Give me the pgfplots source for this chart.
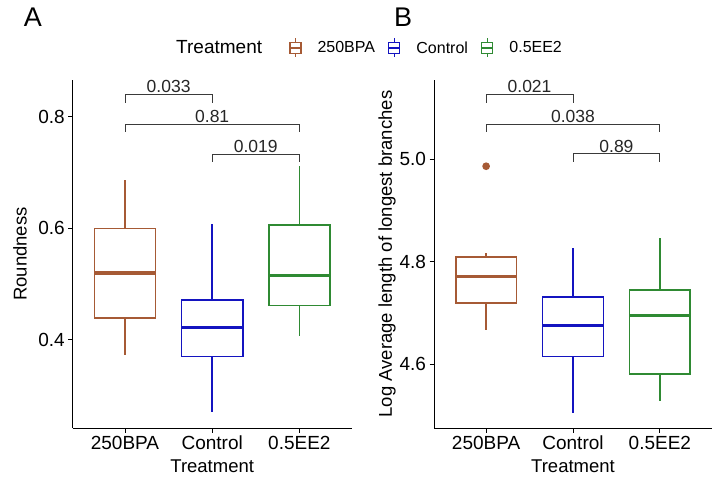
\documentclass[border=0pt]{standalone}
\usepackage{fontspec}
\setmainfont{Liberation Sans}
\usepackage{pgfplots}
\pgfplotsset{compat=1.18}
\usepgfplotslibrary{statistics}

\definecolor{cBPA}{HTML}{A65A35}
\definecolor{cCtl}{HTML}{1414C0}
\definecolor{cEE}{HTML}{2F8A33}
\definecolor{cBr}{HTML}{3A3A3A}

\tikzset{
  br/.style={cBr, line width=1pt},
  bl/.style={font=\fontsize{17.5}{20}\selectfont, text=black!85, above, inner sep=1.5pt},
}
\pgfplotsset{
  panel/.style={
    scale only axis,
    width=279pt, height=348pt,
    axis lines=left,
    axis line style={-, black, line width=1pt},
    xmin=0.4, xmax=3.6,
    xtick={1,2,3},
    xticklabels={250BPA,Control,0.5EE2},
    tick align=outside,
    major tick length=4.5pt,
    tick style={black, line width=1pt},
    tick label style={font=\fontsize{19}{22}\selectfont},
    xlabel={Treatment},
    every axis x label/.style={at={(axis description cs:0.5,-0.111)}, anchor=center,
      font=\fontsize{18.5}{22}\selectfont},
    /pgf/number format/assume math mode=true,
    boxplot/draw direction=y,
    clip=false,
  },
  bx/.style={
    solid, line width=1.6pt, draw=#1, fill=none,
    boxplot/whisker extend=0,
    boxplot/every box/.style={draw=#1, line width=1.6pt},
    boxplot/every whisker/.style={draw=#1, line width=1.6pt},
    boxplot/every median/.style={draw=#1, line width=3.2pt},
    mark=*, mark size=3pt, mark options={fill=#1, draw=#1},
  },
  key/.style={legend image code/.code={
    \draw[#1, line width=1.4pt] (0pt,-5.5pt) rectangle (11pt,5.5pt);
    \draw[#1, line width=1.4pt] (0pt,0pt) -- (11pt,0pt);
    \draw[#1, line width=1.4pt] (5.5pt,5.5pt) -- (5.5pt,9.5pt);
    \draw[#1, line width=1.4pt] (5.5pt,-5.5pt) -- (5.5pt,-9.5pt);
  }},
}

\begin{document}
\begin{tikzpicture}
\path (0pt,0pt) rectangle (717pt,480pt);

% Panel A
\begin{axis}[panel,
  at={(72.7pt,52pt)},
  ymin=0.242, ymax=0.866,
  ytick={0.4,0.6,0.8},
  yticklabel style={/pgf/number format/.cd, fixed, fixed zerofill, precision=1},
  ylabel={Roundness},
  every axis y label/.style={at={(axis description cs:-0.189,0.5)}, rotate=90, anchor=center,
    font=\fontsize{18.5}{22}\selectfont},
  legend columns=-1,
  legend style={at={(axis description cs:0.313,1.092)}, anchor=west, draw=none, fill=none,
    font=\fontsize{16}{19}\selectfont, inner xsep=0pt,
    /tikz/every odd column/.append style={column sep=14pt},
    /tikz/every even column/.append style={column sep=11pt}},
]
\addlegendimage{empty legend}
\addlegendentry{\fontsize{19}{22}\selectfont Treatment\rule{14pt}{0pt}}
\addlegendimage{key=cBPA}
\addlegendentry{250BPA}
\addlegendimage{key=cCtl}
\addlegendentry{Control}
\addlegendimage{key=cEE}
\addlegendentry{0.5EE2}

\addplot+[bx=cBPA, forget plot, boxplot prepared={draw position=1, box extend=0.7,
  lower whisker=0.373, lower quartile=0.439, median=0.520, upper quartile=0.600, upper whisker=0.687}]
  coordinates {};
\addplot+[bx=cCtl, forget plot, boxplot prepared={draw position=2, box extend=0.7,
  lower whisker=0.270, lower quartile=0.370, median=0.422, upper quartile=0.472, upper whisker=0.608}]
  coordinates {};
\addplot+[bx=cEE, forget plot, boxplot prepared={draw position=3, box extend=0.7,
  lower whisker=0.407, lower quartile=0.462, median=0.515, upper quartile=0.606, upper whisker=0.712}]
  coordinates {};

\draw[br] (axis cs:1,0.825) -- (axis cs:1,0.840) -- (axis cs:2,0.840) -- (axis cs:2,0.825);
\node[bl] at (axis cs:1.5,0.840) {0.033};
\draw[br] (axis cs:1,0.773) -- (axis cs:1,0.787) -- (axis cs:3,0.787) -- (axis cs:3,0.773);
\node[bl] at (axis cs:2,0.787) {0.81};
\draw[br] (axis cs:2,0.719) -- (axis cs:2,0.733) -- (axis cs:3,0.733) -- (axis cs:3,0.719);
\node[bl] at (axis cs:2.5,0.733) {0.019};
\end{axis}
\node[font=\fontsize{27}{30}\selectfont, anchor=center] at (33pt,463pt) {A};

% Panel B
\begin{axis}[panel,
  at={(434pt,52pt)}, width=278pt,
  ymin=4.476, ymax=5.154,
  ytick={4.6,4.8,5.0},
  yticklabel style={/pgf/number format/.cd, fixed, fixed zerofill, precision=1},
  ylabel={Log Average length of longest branches},
  every axis y label/.style={at={(axis description cs:-0.169,0.5)}, rotate=90, anchor=center,
    font=\fontsize{18.5}{22}\selectfont},
]
\addplot+[bx=cBPA, boxplot prepared={draw position=1, box extend=0.7,
  lower whisker=4.667, lower quartile=4.719, median=4.771, upper quartile=4.809, upper whisker=4.816}]
  coordinates {(0,4.986)};
\addplot+[bx=cCtl, boxplot prepared={draw position=2, box extend=0.7,
  lower whisker=4.506, lower quartile=4.615, median=4.676, upper quartile=4.731, upper whisker=4.826}]
  coordinates {};
\addplot+[bx=cEE, boxplot prepared={draw position=3, box extend=0.7,
  lower whisker=4.529, lower quartile=4.581, median=4.695, upper quartile=4.745, upper whisker=4.846}]
  coordinates {};

\draw[br] (axis cs:1,5.110) -- (axis cs:1,5.126) -- (axis cs:2,5.126) -- (axis cs:2,5.110);
\node[bl] at (axis cs:1.5,5.126) {0.021};
\draw[br] (axis cs:1,5.053) -- (axis cs:1,5.068) -- (axis cs:3,5.068) -- (axis cs:3,5.053);
\node[bl] at (axis cs:2,5.068) {0.038};
\draw[br] (axis cs:2,4.995) -- (axis cs:2,5.010) -- (axis cs:3,5.010) -- (axis cs:3,4.995);
\node[bl] at (axis cs:2.5,5.010) {0.89};
\end{axis}
\node[font=\fontsize{27}{30}\selectfont, anchor=center] at (403pt,463pt) {B};
\end{tikzpicture}
\end{document}
